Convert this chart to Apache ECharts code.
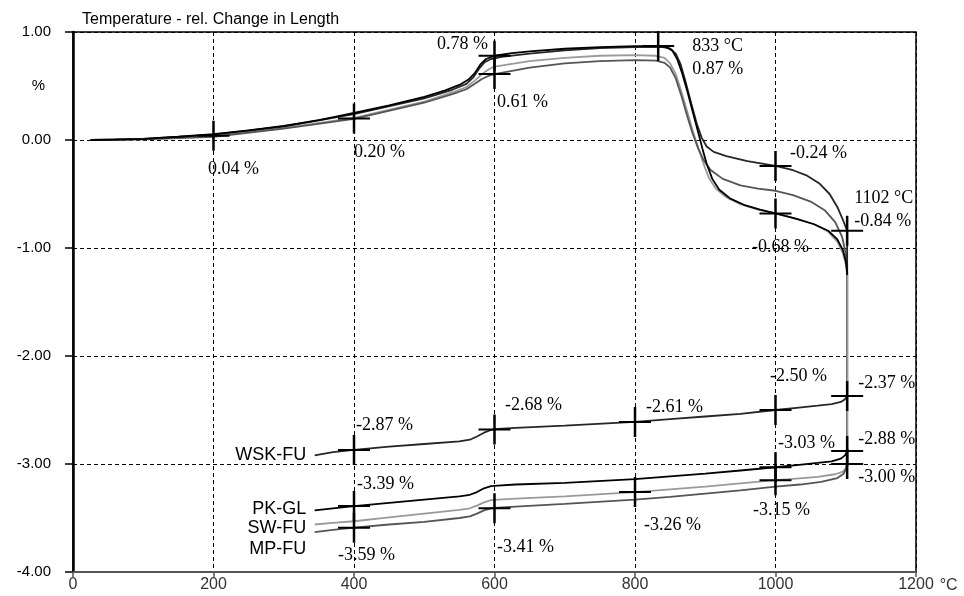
<!DOCTYPE html>
<html><head><meta charset="utf-8">
<script src="https://cdn.jsdelivr.net/npm/echarts@6/dist/echarts.min.js"></script>
<style>html,body{margin:0;padding:0;background:#fff}#c{width:964px;height:596px}</style>
</head><body><div id="c"></div>
<script>
// ---------- data ----------
const titleText = 'Temperature - rel. Change in Length';
const xTicks = [0, 200, 400, 600, 800, 1000, 1200];
const yTicks = [-4, -3, -2, -1, 0, 1];
const sampleNames = ['WSK-FU', 'PK-GL', 'SW-FU', 'MP-FU'];

// heating curves (°C, %)
const heatWSK = [[25,0],[100,0.01],[200,0.05],[300,0.125],[400,0.24],[500,0.385],[540,0.465],[560,0.52],[570,0.58],[578,0.66],[586,0.72],[595,0.75],[610,0.77],[650,0.80],[700,0.83],[750,0.85],[800,0.86],[840,0.86],[850,0.845],[858,0.80],[865,0.70],[872,0.54],[880,0.34],[888,0.15],[895,0.02],[902,-0.06],[912,-0.11],[930,-0.15],[960,-0.195],[1000,-0.24],[1025,-0.28],[1045,-0.33],[1062,-0.40],[1077,-0.50],[1088,-0.62],[1096,-0.74],[1102,-0.84]];
const heatPK = [[25,0],[60,0.003],[100,0.01],[150,0.03],[200,0.055],[250,0.09],[300,0.13],[350,0.185],[400,0.25],[450,0.32],[500,0.40],[530,0.46],[550,0.51],[563,0.56],[572,0.62],[580,0.70],[588,0.75],[600,0.78],[625,0.805],[650,0.82],[700,0.845],[750,0.86],[800,0.87],[833,0.87],[845,0.86],[853,0.83],[860,0.75],[867,0.62],[875,0.44],[883,0.24],[890,0.07],[896,-0.08],[902,-0.22],[910,-0.36],[920,-0.46],[935,-0.54],[955,-0.60],[978,-0.645],[1000,-0.68],[1030,-0.73],[1055,-0.78],[1075,-0.84],[1088,-0.92],[1096,-1.02],[1100,-1.12],[1102,-1.22]];
const heatSW = [[25,0],[100,0.005],[200,0.035],[300,0.11],[400,0.205],[500,0.355],[540,0.44],[560,0.49],[572,0.55],[582,0.61],[592,0.655],[600,0.68],[650,0.73],[700,0.76],[750,0.78],[800,0.785],[830,0.78],[842,0.76],[850,0.71],[858,0.61],[866,0.45],[874,0.27],[882,0.09],[890,-0.07],[897,-0.21],[905,-0.35],[915,-0.45],[930,-0.53],[950,-0.595],[975,-0.645],[1000,-0.68],[1030,-0.73],[1055,-0.78],[1075,-0.85],[1088,-0.94],[1096,-1.05],[1100,-1.15],[1102,-1.25]];
const heatMP = [[25,0],[100,0.005],[200,0.03],[300,0.105],[400,0.195],[500,0.345],[540,0.425],[560,0.47],[572,0.52],[582,0.565],[592,0.595],[600,0.61],[650,0.67],[700,0.71],[750,0.73],[800,0.74],[830,0.735],[842,0.715],[850,0.67],[858,0.57],[866,0.41],[874,0.23],[882,0.06],[890,-0.08],[898,-0.19],[908,-0.28],[925,-0.36],[950,-0.42],[975,-0.45],[1000,-0.47],[1025,-0.51],[1050,-0.57],[1070,-0.65],[1085,-0.76],[1095,-0.90],[1100,-1.05],[1102,-1.15]];

// cooling curves (°C, %), from 1102 °C downwards
const coolWSK = [[1102,-2.37],[1099,-2.40],[1093,-2.425],[1080,-2.445],[1060,-2.46],[1030,-2.48],[1000,-2.50],[950,-2.535],[900,-2.56],[850,-2.585],[800,-2.61],[700,-2.645],[630,-2.665],[605,-2.675],[595,-2.685],[585,-2.71],[575,-2.745],[565,-2.775],[550,-2.79],[500,-2.815],[450,-2.84],[400,-2.87],[370,-2.89],[344,-2.92]];
const coolPK = [[1102,-2.88],[1099,-2.92],[1093,-2.95],[1080,-2.975],[1060,-2.99],[1030,-3.01],[1000,-3.03],[950,-3.06],[900,-3.09],[850,-3.115],[800,-3.14],[700,-3.175],[630,-3.19],[605,-3.20],[595,-3.205],[585,-3.225],[575,-3.26],[565,-3.285],[550,-3.30],[500,-3.33],[450,-3.36],[400,-3.39],[370,-3.41],[344,-3.43]];
const coolSW = [[1102,-3.00],[1100,-3.04],[1096,-3.07],[1085,-3.095],[1060,-3.12],[1030,-3.135],[1000,-3.15],[950,-3.18],[900,-3.21],[850,-3.235],[800,-3.26],[700,-3.30],[630,-3.32],[605,-3.33],[595,-3.335],[585,-3.355],[575,-3.385],[565,-3.41],[550,-3.425],[500,-3.46],[450,-3.495],[400,-3.53],[370,-3.545],[344,-3.56]];
const coolMP = [[1102,-3.00],[1100,-3.05],[1097,-3.09],[1088,-3.13],[1065,-3.165],[1035,-3.19],[1000,-3.21],[950,-3.245],[900,-3.275],[850,-3.305],[800,-3.33],[700,-3.37],[630,-3.395],[605,-3.405],[595,-3.41],[585,-3.43],[575,-3.46],[565,-3.485],[550,-3.50],[500,-3.535],[450,-3.56],[400,-3.59],[370,-3.61],[344,-3.63]];

// evaluation crosses (°C, %)
const markerPoints = [[200,0.04],[400,0.20],[600,0.78],[600,0.61],[833,0.87],[1000,-0.24],[1000,-0.68],[1102,-0.84],
  [400,-2.87],[600,-2.68],[800,-2.61],[1000,-2.50],[1102,-2.37],
  [1000,-3.03],[1102,-2.88],[1102,-3.00],[400,-3.39],
  [400,-3.59],[600,-3.41],[800,-3.26],[1000,-3.15]];
const markerShowsTemp = [false,false,false,false,true,false,false,true,false,false,false,false,false,false,false,false,false,false,false,false,false];

// ---------- layout / style (not data) ----------
const markerLabelLayout = [[-5.5,34,'left'],[0,34,'left'],[-6.5,-11,'right'],[2.5,28,'left'],[34,11.5,'left'],[14.5,-13,'left'],[-23.5,34,'left'],[7,-20.5,'left'],
  [2,-25,'left'],[10.5,-24,'left'],[11,-15,'left'],[-5.5,-34,'left'],[11,-13,'left'],
  [2.5,-24,'left'],[11,-12,'left'],[11,13,'left'],[3,-22,'left'],
  [-16,28,'left'],[2.5,39,'left'],[9,33,'left'],[-22.5,30,'left']];
const nameLabelOffsets = [[0,0],[0,-1],[0,3.5],[0,17]];
const colors = ['#262626', '#000000', '#9a9a9a', '#555555'];
const heats = [heatWSK, heatPK, heatSW, heatMP];
const cools = [coolWSK, coolPK, coolSW, coolMP];
const drawOrder = [2, 3, 0, 1];

const SANS = 'Liberation Sans, Arial, sans-serif';
const SERIF = 'Liberation Serif, Times New Roman, serif';
const crossPath = 'path://M0,14H32V16H0Z M14.75,0H17.25V30H14.75Z';

const series = [];
drawOrder.forEach(i => {
  series.push({
    type: 'line', name: sampleNames[i], data: heats[i].concat(cools[i]),
    showSymbol: false, symbol: 'none', silent: true,
    lineStyle: { color: colors[i], width: 1.8 }, z: 2
  });
});
// the light-grey dwell (vertical) segment at 1102 °C shows on top in the original
series.push({
  type: 'line', data: [heatSW[heatSW.length - 1], coolSW[0]],
  showSymbol: false, symbol: 'none', silent: true,
  lineStyle: { color: colors[2], width: 1.8 }, z: 3
});
// sample names at the cool end of each cooling curve
series.push({
  type: 'scatter', silent: true, z: 4,
  symbolSize: 1, itemStyle: { color: 'rgba(0,0,0,0)', opacity: 1 },
  data: sampleNames.map((n, i) => ({
    value: cools[i][cools[i].length - 1], name: n,
    label: { show: true, position: 'left', distance: 8, offset: nameLabelOffsets[i],
      formatter: n, fontFamily: SANS, fontSize: 18, color: '#000' }
  }))
});
// crosses with value labels
series.push({
  type: 'scatter', silent: true, z: 5,
  symbol: crossPath, symbolSize: [32, 30], symbolKeepAspect: false,
  itemStyle: { color: '#000', opacity: 1 },
  data: markerPoints.map((p, i) => ({
    value: p,
    label: {
      show: true, position: 'inside',
      offset: [markerLabelLayout[i][0], markerLabelLayout[i][1]],
      align: markerLabelLayout[i][2], verticalAlign: 'middle',
      formatter: (markerShowsTemp[i] ? p[0] + ' °C\n' : '') + p[1].toFixed(2) + ' %',
      fontFamily: SERIF, fontSize: 18, color: '#000', lineHeight: 23
    }
  }))
});

const chart = echarts.init(document.getElementById('c'), null, { renderer: 'canvas' });
chart.setOption({
  animation: false,
  backgroundColor: '#fff',
  title: { text: titleText, left: 77, top: 7,
    textStyle: { fontFamily: SANS, fontSize: 16, fontWeight: 'normal', color: '#000' } },
  grid: { left: 73, right: 48, top: 32, bottom: 24, show: true, borderColor: '#000', borderWidth: 1.5, containLabel: false },
  xAxis: {
    type: 'value', min: xTicks[0], max: xTicks[xTicks.length - 1], interval: xTicks[1] - xTicks[0],
    name: '°C', nameLocation: 'end', nameGap: 22,
    nameTextStyle: { fontFamily: SANS, fontSize: 16, color: '#333', verticalAlign: 'top', padding: [6, 0, 0, 0] },
    axisLine: { show: true, onZero: false, lineStyle: { color: '#555', width: 2 } },
    axisTick: { show: true, length: 5, lineStyle: { color: '#555', width: 1.5 } },
    axisLabel: { fontFamily: SANS, fontSize: 16, color: '#333', margin: 5, formatter: v => String(v) },
    splitLine: { show: true, lineStyle: { color: '#000', width: 1, type: [4, 3] } }
  },
  yAxis: [{
    type: 'value', min: yTicks[0], max: yTicks[yTicks.length - 1], interval: yTicks[1] - yTicks[0],
    axisLine: { show: true, onZero: false, lineStyle: { color: '#000', width: 2.5 } },
    axisTick: { show: true, length: 8, lineStyle: { color: '#000', width: 1.5 } },
    axisLabel: { fontFamily: SANS, fontSize: 15, color: '#000', margin: 22, formatter: v => v.toFixed(2) },
    splitLine: { show: true, lineStyle: { color: '#000', width: 1, type: [4, 3] } }
  }, {
    type: 'value', min: yTicks[0], max: yTicks[yTicks.length - 1], interval: 0.5, position: 'left',
    axisLine: { show: false, onZero: false }, axisTick: { show: false }, splitLine: { show: false },
    axisLabel: { fontFamily: SANS, fontSize: 15, color: '#000', margin: 28,
      formatter: v => (v === 0.5 ? '%' : '') }
  }],
  series: series
});
</script></body></html>
